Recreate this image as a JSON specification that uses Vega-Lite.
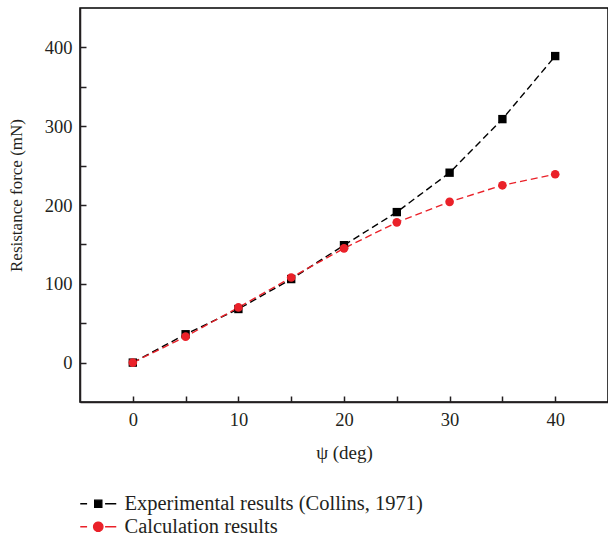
{
  "$schema": "https://vega.github.io/schema/vega-lite/v6.json",
  "autosize": {"type": "none"},
  "padding": {"left": 80, "top": 8, "right": 0, "bottom": 139},
  "width": 528,
  "height": 394,
  "background": "white",
  "config": {
    "font": "Liberation Serif",
    "view": {"stroke": "black", "strokeWidth": 1.5},
    "axis": {
      "domainColor": "#231f20",
      "domainWidth": 1.5,
      "tickColor": "#231f20",
      "tickWidth": 1.5,
      "labelColor": "#231f20",
      "titleColor": "#231f20",
      "labelFont": "Liberation Serif",
      "titleFont": "Liberation Serif",
      "labelFontSize": 18.5,
      "titleFontSize": 17,
      "titleFontWeight": "normal",
      "grid": false
    },
    "legend": {"labelFont": "Liberation Serif", "labelFontSize": 20.5, "labelColor": "#231f20"}
  },
  "data": {
    "values": [
      {"psi": 0, "force": 0, "series": "Experimental results (Collins, 1971)"},
      {"psi": 5, "force": 36, "series": "Experimental results (Collins, 1971)"},
      {"psi": 10, "force": 68, "series": "Experimental results (Collins, 1971)"},
      {"psi": 15, "force": 106, "series": "Experimental results (Collins, 1971)"},
      {"psi": 20, "force": 149, "series": "Experimental results (Collins, 1971)"},
      {"psi": 25, "force": 191, "series": "Experimental results (Collins, 1971)"},
      {"psi": 30, "force": 241, "series": "Experimental results (Collins, 1971)"},
      {"psi": 35, "force": 309, "series": "Experimental results (Collins, 1971)"},
      {"psi": 40, "force": 389, "series": "Experimental results (Collins, 1971)"},
      {"psi": 0, "force": 0, "series": "Calculation results"},
      {"psi": 5, "force": 33, "series": "Calculation results"},
      {"psi": 10, "force": 70, "series": "Calculation results"},
      {"psi": 15, "force": 108, "series": "Calculation results"},
      {"psi": 20, "force": 145, "series": "Calculation results"},
      {"psi": 25, "force": 178, "series": "Calculation results"},
      {"psi": 30, "force": 204, "series": "Calculation results"},
      {"psi": 35, "force": 225, "series": "Calculation results"},
      {"psi": 40, "force": 239, "series": "Calculation results"}
    ]
  },
  "encoding": {
    "x": {
      "field": "psi", "type": "quantitative",
      "scale": {"domain": [-5, 45], "nice": false, "zero": false},
      "axis": {
        "title": "ψ (deg)",
        "titleFontSize": 19,
        "values": [0, 5, 10, 15, 20, 25, 30, 35, 40],
        "labelExpr": "datum.value % 10 === 0 ? datum.label : ''",
        "tickSize": -6,
        "labelPadding": 14,
        "titlePadding": 15
      }
    },
    "y": {
      "field": "force", "type": "quantitative",
      "scale": {"domain": [-50, 450], "nice": false, "zero": false},
      "axis": {
        "title": "Resistance force (mN)",
        "titleY": 187,
        "values": [0, 50, 100, 150, 200, 250, 300, 350, 400],
        "labelExpr": "datum.value % 100 === 0 ? datum.label : ''",
        "tickSize": -6,
        "labelPadding": 14,
        "titlePadding": 19
      }
    },
    "color": {
      "field": "series", "type": "nominal",
      "scale": {"domain": ["Experimental results (Collins, 1971)", "Calculation results"], "range": ["#000000", "#ea2129"]},
      "legend": {
        "title": null,
        "orient": "none",
        "legendX": 0,
        "legendY": 485.5,
        "direction": "vertical",
        "symbolSize": 324,
        "symbolOffset": 8,
        "labelOffset": 16,
        "labelLimit": 500,
        "rowPadding": 2,
        "encode": {
          "symbols": {
            "update": {
              "shape": {"signal": "datum.value === 'Calculation results' ? 'M-2,0H-1.24M0.76,0H2M0.52,0A0.52,0.52 0 1,1 -0.52,0A0.52,0.52 0 1,1 0.52,0Z' : 'M-2,0H-1.24M0.76,0H2M-0.4,-0.4H0.4V0.4H-0.4Z'"},
              "fill": {"signal": "datum.value === 'Calculation results' ? '#ea2129' : '#000000'"},
              "stroke": {"signal": "datum.value === 'Calculation results' ? '#ea2129' : '#000000'"},
              "strokeWidth": {"value": 1.3},
              "strokeDash": {"value": [1, 0]},
              "opacity": {"value": 1}
            }
          }
        }
      }
    }
  },
  "layer": [
    {
      "mark": {"type": "line", "strokeDash": [7, 4], "strokeWidth": 1.4}
    },
    {
      "transform": [{"filter": "datum.series === 'Experimental results (Collins, 1971)'"}],
      "mark": {"type": "point", "shape": "square", "filled": true, "opacity": 1, "size": 70}
    },
    {
      "transform": [{"filter": "datum.series === 'Calculation results'"}],
      "mark": {"type": "point", "shape": "circle", "filled": true, "opacity": 1, "size": 75}
    }
  ]
}
